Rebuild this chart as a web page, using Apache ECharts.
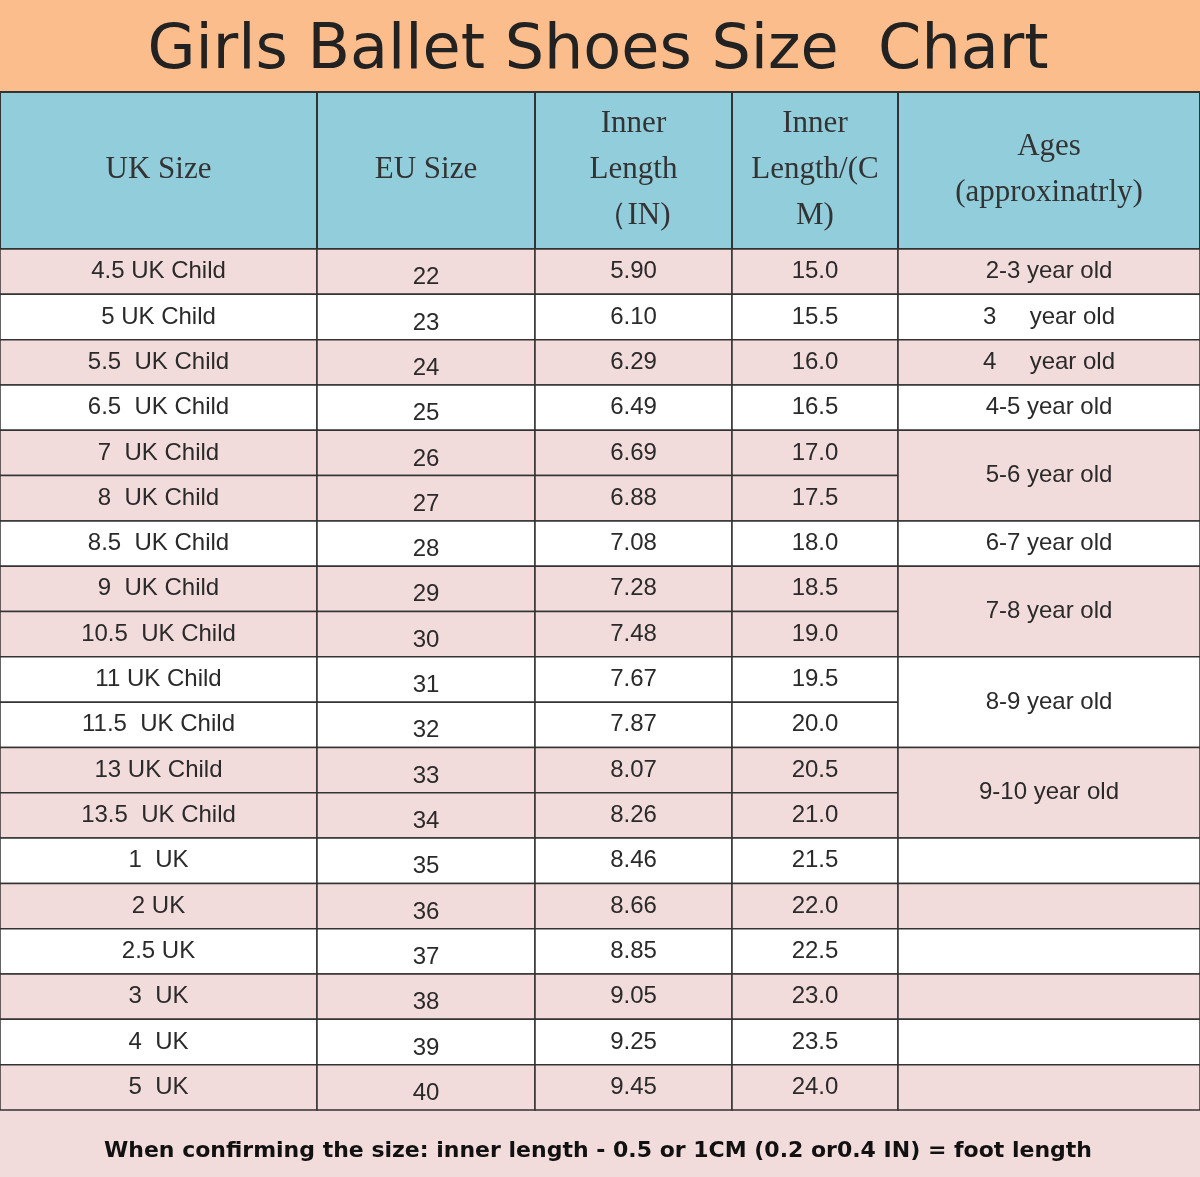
<!DOCTYPE html>
<html><head><meta charset="utf-8">
<script src="https://cdn.jsdelivr.net/npm/echarts@6/dist/echarts.min.js"></script>
<style>html,body{margin:0;padding:0;background:#fff}#c{width:1200px;height:1177px}</style>
</head><body><div id="c"></div>
<script>
const title = 'Girls Ballet Shoes Size  Chart';
const headers = ['UK Size', 'EU Size', 'Inner\nLength\n（IN)', 'Inner\nLength/(C\nM)', 'Ages\n(approxinatrly)'];
const ukSizes = ['4.5 UK Child','5 UK Child','5.5  UK Child','6.5  UK Child','7  UK Child','8  UK Child','8.5  UK Child','9  UK Child','10.5  UK Child','11 UK Child','11.5  UK Child','13 UK Child','13.5  UK Child','1  UK','2 UK','2.5 UK','3  UK','4  UK','5  UK'];
const euSizes = ['22','23','24','25','26','27','28','29','30','31','32','33','34','35','36','37','38','39','40'];
const inchLen = ['5.90','6.10','6.29','6.49','6.69','6.88','7.08','7.28','7.48','7.67','7.87','8.07','8.26','8.46','8.66','8.85','9.05','9.25','9.45'];
const cmLen = ['15.0','15.5','16.0','16.5','17.0','17.5','18.0','18.5','19.0','19.5','20.0','20.5','21.0','21.5','22.0','22.5','23.0','23.5','24.0'];
const rowPink = [1,0,1,0,1,1,0,1,1,0,0,1,1,0,1,0,1,0,1];
const ageText = ['2-3 year old','3     year old','4     year old','4-5 year old','5-6 year old','6-7 year old','7-8 year old','8-9 year old','9-10 year old','','','','','',''];
const ageStart = [0,1,2,3,4,6,7,9,11,13,14,15,16,17,18];
const ageSpan  = [1,1,1,1,2,1,2,2,2,1,1,1,1,1,1];
const agePink  = [1,0,1,0,1,0,1,0,1,0,1,0,1,0,1];
const footer = 'When confirming the size: inner length - 0.5 or 1CM (0.2 or0.4 IN) = foot length';

const colEdges = [0,317,535,732,898,1200];
const PINK='#f2dcdb', BLUE='#92cddc', ORANGE='#fbbd8c', LINE='#333', TXT='#2a2a2a';
const chart = echarts.init(document.getElementById('c'));

const tableCols = [ukSizes, euSizes, inchLen, cmLen];
const cellFont = '24px "Liberation Sans", Arial, sans-serif';

function rowItem(params, api){
  const r = api.value(0);
  const g = [];
  for(let c=0;c<4;c++){
    const p0 = api.coord([colEdges[c], r]);
    const p1 = api.coord([colEdges[c+1], r+1]);
    g.push({type:'rect', shape:{x:p0[0],y:p0[1],width:p1[0]-p0[0],height:p1[1]-p0[1]},
      style:{fill: rowPink[r]?PINK:'#fff', stroke:LINE, lineWidth:1.5}});
    const dy = c===1 ? 6 : 0;
    g.push({type:'text', style:{text: tableCols[c][r], x:(p0[0]+p1[0])/2, y:(p0[1]+p1[1])/2+dy,
      align:'center', verticalAlign:'middle', font: cellFont, fill: TXT}});
  }
  return {type:'group', children:g};
}
function ageItem(params, api){
  const i = params.dataIndex;
  const s = api.value(0), n = api.value(1);
  const p0 = api.coord([colEdges[4], s]);
  const p1 = api.coord([colEdges[5], s+n]);
  return {type:'group', children:[
    {type:'rect', shape:{x:p0[0],y:p0[1],width:p1[0]-p0[0],height:p1[1]-p0[1]},
      style:{fill: agePink[i]?PINK:'#fff', stroke:LINE, lineWidth:1.5}},
    {type:'text', style:{text: ageText[i], x:(p0[0]+p1[0])/2, y:(p0[1]+p1[1])/2,
      align:'center', verticalAlign:'middle', font: cellFont, fill: TXT}}
  ]};
}

const headerGraphics = [
  {type:'rect', shape:{x:0,y:0,width:1200,height:92}, style:{fill:ORANGE}},
  {type:'text', style:{text:title, x:598, y:52, align:'center', verticalAlign:'middle',
    font:'62px "DejaVu Sans", sans-serif', fill:'#222'}},
  {type:'rect', shape:{x:0,y:92,width:1200,height:157}, style:{fill:BLUE, stroke:LINE, lineWidth:2}}
];
for(let c=0;c<5;c++){
  if(c>0) headerGraphics.push({type:'line', shape:{x1:colEdges[c],y1:92,x2:colEdges[c],y2:249}, style:{stroke:LINE,lineWidth:2}});
  headerGraphics.push({type:'text', style:{text:headers[c], x:(colEdges[c]+colEdges[c+1])/2, y:170,
    align:'center', verticalAlign:'middle', lineHeight:46,
    font:'31px "Liberation Serif", "DejaVu Serif", serif', fill:'#333'}});
}
headerGraphics.push({type:'rect', shape:{x:0,y:1110,width:1200,height:67}, style:{fill:PINK}});
headerGraphics.push({type:'text', style:{text:footer, x:598, y:1151, align:'center', verticalAlign:'middle',
  font:'bold 22px "DejaVu Sans", Verdana, sans-serif', fill:'#111'}});

chart.setOption({
  animation:false,
  grid:{left:0,right:0,top:249,bottom:67},
  xAxis:{type:'value', min:0, max:1200, show:false},
  yAxis:{type:'value', min:0, max:19, inverse:true, show:false},
  graphic: headerGraphics,
  series:[
    {type:'custom', renderItem:rowItem, data: ukSizes.map((_,i)=>[i]), encode:{x:-1,y:0}},
    {type:'custom', renderItem:ageItem, data: ageStart.map((s,i)=>[s, ageSpan[i]]), encode:{x:-1,y:0}}
  ]
});
</script></body></html>
